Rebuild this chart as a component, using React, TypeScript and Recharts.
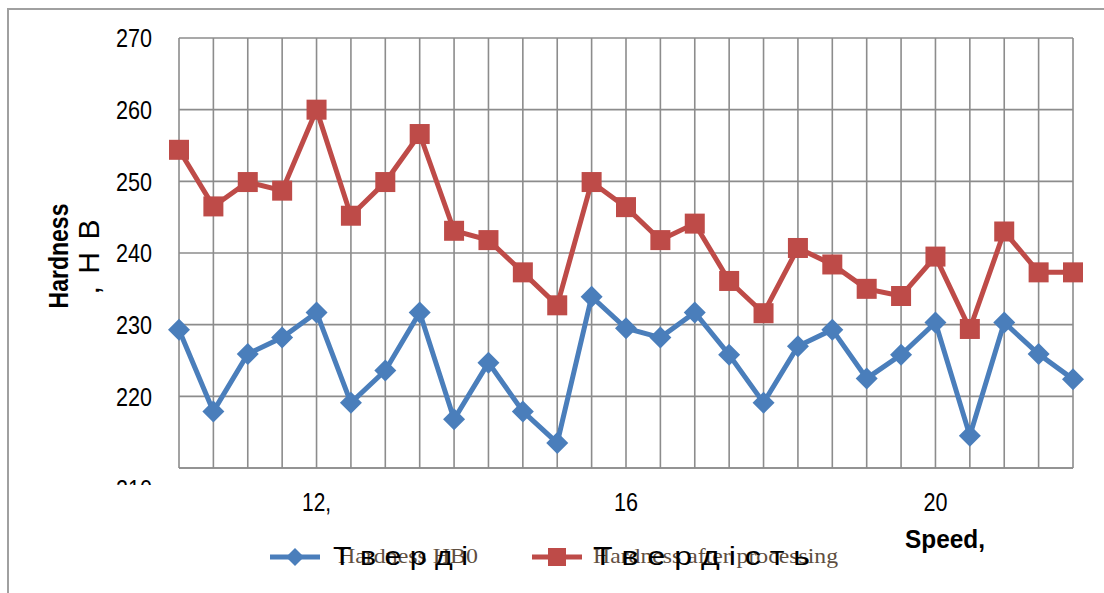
import React from 'react';
import { LineChart, Line, XAxis, YAxis, CartesianGrid } from 'recharts';

// ---- data ----
const pointIds = ['p01','p02','p03','p04','p05','p06','p07','p08','p09','p10','p11','p12','p13','p14','p15','p16','p17','p18','p19','p20','p21','p22','p23','p24','p25','p26','p27'];
const xTickLabels = ['', '', '', '', '12,', '', '', '', '', '', '', '', '', '16', '', '', '', '', '', '', '', '', '20', '', '', '', ''];
const hardnessHB0 = [229.3, 217.9, 225.9, 228.2, 231.7, 219.1, 223.6, 231.7, 216.8, 224.7, 217.9, 213.5, 233.9, 229.5, 228.2, 231.7, 225.8, 219.1, 227.0, 229.3, 222.5, 225.8, 230.3, 214.5, 230.3, 225.9, 222.4];
const hardnessAfter = [254.4, 246.5, 249.9, 248.7, 260.0, 245.2, 249.9, 256.6, 243.1, 241.8, 237.3, 232.7, 249.9, 246.4, 241.8, 244.1, 236.1, 231.6, 240.7, 238.4, 235.0, 234.0, 239.5, 229.4, 243.0, 237.3, 237.3];
const yTicks = [210, 220, 230, 240, 250, 260, 270];

const legendHB0Overlay = 'Т в е р д і';
const legendHB0 = 'Hardness HB0';
const legendAfterOverlay = 'Т в е р д і с т ь';
const legendAfter = 'Hardness after processing';

const data = pointIds.map((id, i) => ({ id, hb0: hardnessHB0[i], after: hardnessAfter[i] }));

const BLUE = '#4a7ebb';
const RED = '#be4b48';
const SANS = '"Liberation Sans", Arial, sans-serif';
const SERIF = '"Liberation Serif", "Times New Roman", serif';

// narrow look: condense each label to ~12px per character
const narrowLen = (s: string) => {
  let w = 0;
  for (const ch of s) w += ch === ',' ? 5 : 12;
  return w;
};

const Diamond = (props: any) => {
  const { cx, cy, index } = props;
  if (cx == null || cy == null) return <g key={`d-${index}`} />;
  const r = 11;
  return (
    <polygon
      key={`d-${index}`}
      points={`${cx},${cy - r} ${cx + r},${cy} ${cx},${cy + r} ${cx - r},${cy}`}
      fill={BLUE}
    />
  );
};

const Square = (props: any) => {
  const { cx, cy, index } = props;
  if (cx == null || cy == null) return <g key={`s-${index}`} />;
  const h = 10;
  return <rect key={`s-${index}`} x={cx - h} y={cy - h} width={2 * h} height={2 * h} fill={RED} />;
};

const YTick = (props: any) => {
  const { x, y, payload } = props;
  const label = String(payload.value);
  const common = {
    x,
    dy: '0.355em',
    textAnchor: 'end' as const,
    fontFamily: SANS,
    fontSize: 26,
    fill: '#000',
    textLength: narrowLen(label),
    lengthAdjust: 'spacingAndGlyphs' as const,
  };
  if (payload.value === 210) {
    return (
      <g>
        <defs>
          <clipPath id="clip210">
            <rect x={0} y={0} width={179} height={485} />
          </clipPath>
        </defs>
        <text {...common} y={y + 21} clipPath="url(#clip210)">
          {label}
        </text>
      </g>
    );
  }
  return (
    <text {...common} y={y}>
      {label}
    </text>
  );
};

const XTick = (props: any) => {
  const { x, y, index } = props;
  const label = xTickLabels[index];
  if (!label) return <g />;
  return (
    <text
      x={x}
      y={y}
      dy="0.71em"
      textAnchor="middle"
      fontFamily={SANS}
      fontSize={26}
      fill="#000"
      textLength={narrowLen(label)}
      lengthAdjust="spacingAndGlyphs"
    >
      {label}
    </text>
  );
};

const YTitle = () => (
  <g>
    <text
      transform="translate(68,256) rotate(-90)"
      textAnchor="middle"
      fontFamily={SANS}
      fontWeight="bold"
      fontSize={28}
      fill="#000"
      textLength={105}
      lengthAdjust="spacingAndGlyphs"
    >
      Hardness
    </text>
    <text
      transform="translate(99,257) rotate(-90)"
      textAnchor="middle"
      fontFamily={SANS}
      fontSize={30}
      fill="#000"
      textLength={75}
      lengthAdjust="spacing"
    >
      , H B
    </text>
  </g>
);

const XTitle = () => (
  <text x={905} y={548} fontFamily={SANS} fontWeight="bold" fontSize={25} fill="#000" textLength={80} lengthAdjust="spacingAndGlyphs">
    Speed,
  </text>
);

export default function App() {
  return (
    <div style={{ position: 'fixed', left: 0, top: 0, width: 1104, height: 593, overflow: 'hidden', background: '#fff' }}>
      <div style={{ position: 'absolute', left: 7, top: 8, width: 1200, height: 700, borderTop: '2px solid #a0a0a0', borderLeft: '2px solid #a0a0a0' }} />
      <div style={{ position: 'absolute', left: 0, top: 0 }}>
        <LineChart width={1104} height={593} data={data} margin={{ top: 38, right: 31, left: 0, bottom: 85 }}>
          <CartesianGrid stroke="#8c8c8c" strokeWidth={1.6} />
          <XAxis
            dataKey="id"
            interval={0}
            tick={<XTick />}
            tickLine={false}
            tickSize={0}
            tickMargin={25}
            height={40}
            axisLine={{ stroke: '#8c8c8c', strokeWidth: 1.6 }}
            label={XTitle}
          />
          <YAxis
            domain={[210, 270]}
            ticks={yTicks}
            type="number"
            width={179}
            tick={<YTick />}
            tickLine={false}
            tickSize={0}
            tickMargin={27}
            axisLine={false}
            interval={0}
            allowDataOverflow
            label={YTitle}
          />
          <Line dataKey="hb0" stroke={BLUE} strokeWidth={5} dot={Diamond} activeDot={false} isAnimationActive={false} />
          <Line dataKey="after" stroke={RED} strokeWidth={5} dot={Square} activeDot={false} isAnimationActive={false} />
        </LineChart>
      </div>
      <svg width={1104} height={593} style={{ position: 'absolute', left: 0, top: 0, pointerEvents: 'none' }}>
        <line x1={270} y1={557} x2={320} y2={557} stroke={BLUE} strokeWidth={5} />
        <polygon points="295,548 304,557 295,566 286,557" fill={BLUE} />
        <text x={338} y={563} fontFamily={SERIF} fontSize={22} fill="#5e4e40" textLength={140} lengthAdjust="spacingAndGlyphs">
          {legendHB0}
        </text>
        <text x={333} y={565} fontFamily={SANS} fontSize={25} fill="#000" textLength={135} lengthAdjust="spacingAndGlyphs">
          {legendHB0Overlay}
        </text>
        <line x1={532} y1={557} x2={582} y2={557} stroke={RED} strokeWidth={5} />
        <rect x={548} y={548} width={18} height={18} fill={RED} />
        <text x={593} y={563} fontFamily={SERIF} fontSize={22} fill="#5e4e40" textLength={245} lengthAdjust="spacingAndGlyphs">
          {legendAfter}
        </text>
        <text x={593} y={565} fontFamily={SANS} fontSize={25} fill="#000" textLength={217} lengthAdjust="spacingAndGlyphs">
          {legendAfterOverlay}
        </text>
      </svg>
    </div>
  );
}
